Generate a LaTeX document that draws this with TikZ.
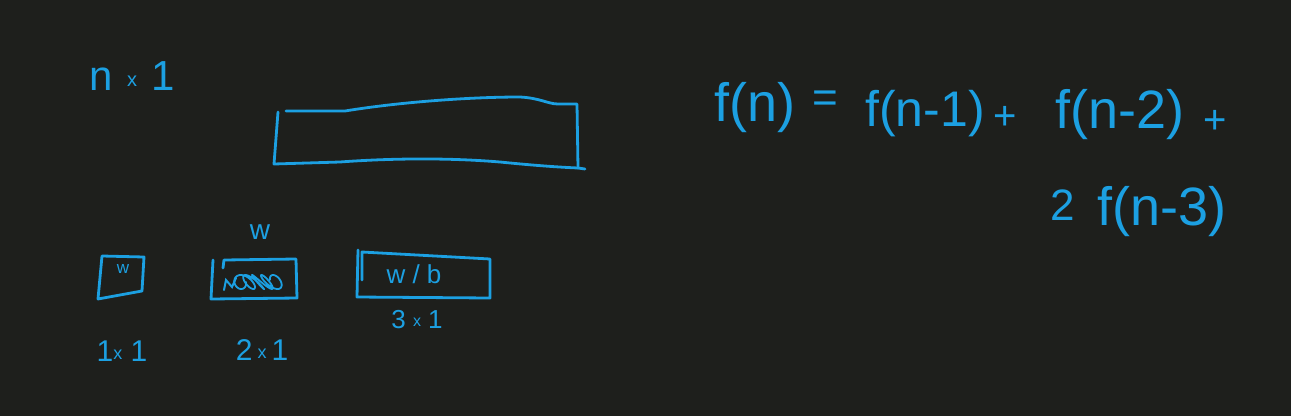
\documentclass[tikz,border=0pt]{standalone}
\usepackage{fontspec}
\setmainfont{Liberation Sans}
\definecolor{bg}{HTML}{1E1F1C}
\definecolor{ink}{HTML}{1CA0E2}
\begin{document}
\begin{tikzpicture}[x=1pt,y=-1pt,
  stroke/.style={draw=ink,line width=2.8pt,line cap=round,line join=round},
  hw/.style={text=ink,inner sep=0pt,font=\fontsize{#1}{#1}\selectfont},
  hw/.default=40]
\fill[bg] (0,0) rectangle (1291,416);
\useasboundingbox (0,0) rectangle (1291,416);
% label n x 1
\node[hw=42] (nx1) at (132,76) {n\,\,\raisebox{4pt}{\fontsize{20}{20}\selectfont x}\,\,1};
% big strip
\draw[stroke] (286,111) -- (345,111) .. controls (400,102) and (470,97) .. (520,97)
  .. controls (540,98) and (548,104) .. (558,104) -- (577,104) -- (578,168) -- (585,169);
\draw[stroke] (278,112) -- (274,164) -- (340,162) .. controls (380,159) and (440,157) .. (500,162)
  .. controls (530,165) and (555,167) .. (578,168);
% 1x1 tile
\draw[stroke] (102,256) -- (144,257) -- (142,291) -- (98,299) -- cycle;
\node[hw=17] (w1) at (123,269) {w};
\node[hw=30] (l1) at (122,351) {1\raisebox{2pt}{\fontsize{18}{18}\selectfont x} 1};
% 2x1 tile
\draw[stroke] (213,260) -- (211,299) -- (297,298) -- (296,259) -- (224,260) -- (223,268);
\node[hw=28] (w2) at (260,232) {w};
\draw[ink,line width=2pt,line cap=round] (224,290) -- (226,280) -- (232,287) -- (236,278);
\draw[ink,line width=1.8pt,line cap=round] plot[domain=0:9*pi,samples=200,smooth]
  ({238+\x*40/(9*pi)+8*cos(\x r)},{282+7*sin(1.1*\x r)});
\node[hw=30] (l2) at (262,350) {2\,\raisebox{2pt}{\fontsize{18}{18}\selectfont x}\,1};
% 3x1 tile
\draw[stroke] (358,250) -- (357,297) -- (490,298) -- (490,259) -- (362,252) -- (362,280);
\node[hw=26] (w3) at (414,274) {w / b};
\node[hw=26] (l3) at (417,320) {3 \raisebox{2pt}{\fontsize{16}{16}\selectfont x} 1};
% equation
\node[hw=54] (fn) at (755,108) {f(n)};
\node[hw=44] (eq) at (825,102) {=};
\node[hw=50] (f1) at (925,114) {f(n-1)};
\node[hw=40] (p1) at (1005,118) {+};
\node[hw=54] (f2) at (1120,115) {f(n-2)};
\node[hw=40] (p2) at (1215,122) {+};
\node[hw=44] (two) at (1063,205) {2};
\node[hw=54] (f3) at (1162,212) {f(n-3)};
\end{tikzpicture}
\end{document}
